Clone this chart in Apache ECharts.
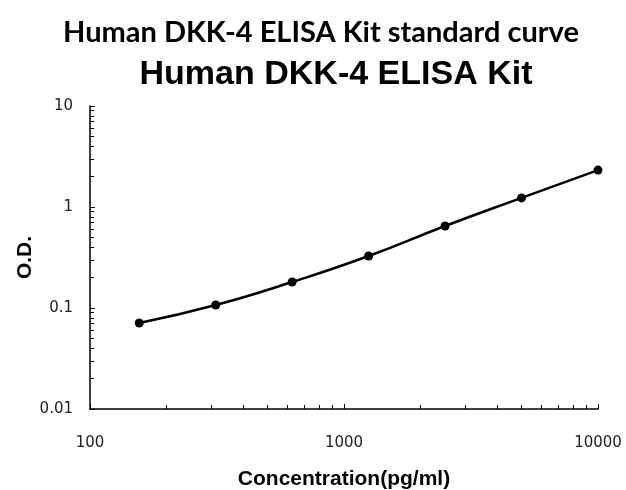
<!DOCTYPE html>
<html>
<head>
<meta charset="utf-8">
<script src="https://cdn.jsdelivr.net/npm/echarts@6/dist/echarts.min.js"></script>
<style>html,body{margin:0;padding:0;background:#fff;}#c{width:626px;height:490px;}</style>
</head>
<body>
<div id="c"></div>
<script>
var concentrations = [156.25, 312.5, 625, 1250, 2500, 5000, 10000];
var odValues = [0.071, 0.107, 0.181, 0.327, 0.648, 1.23, 2.32];
var xTickLabels = [100, 1000, 10000];
var yTickLabels = [0.01, 0.1, 1, 10];

var chart = echarts.init(document.getElementById('c'));
var data = concentrations.map(function (c, i) { return [c, odValues[i]]; });
chart.setOption({
  animation: false,
  backgroundColor: '#fff',
  title: [
    { text: 'Human DKK-4 ELISA Kit standard curve', left: 316, textAlign: 'center', top: 13,
      textStyle: { fontFamily: 'Lato', fontWeight: 'bold', fontSize: 29, color: '#000' } },
    { text: 'Human DKK-4 ELISA Kit', left: 331, textAlign: 'center', top: 53,
      textStyle: { fontFamily: 'Liberation Sans', fontWeight: 'bold', fontSize: 34, color: '#000' } }
  ],
  grid: { left: 90, right: 28, top: 106, bottom: 81, containLabel: false, outerBoundsMode: 'none' },
  xAxis: {
    type: 'log', min: 100, max: 10000, logBase: 10,
    name: 'Concentration(pg/ml)', nameLocation: 'middle', nameGap: 60, nameMoveOverlap: false,
    nameTextStyle: { fontFamily: 'Liberation Sans', fontWeight: 'bold', fontSize: 21, color: '#000' },
    axisLine: { lineStyle: { color: '#000', width: 1.5 } },
    axisTick: { inside: true, length: 5, lineStyle: { color: '#000' } },
    minorTick: { show: true, splitNumber: 9, length: 4, lineStyle: { color: '#000' } },
    splitLine: { show: false },
    axisLabel: { margin: 27, fontFamily: 'DejaVu Sans', fontSize: 15, color: '#222',
      formatter: function (v) { return xTickLabels.indexOf(Math.round(v)) >= 0 ? String(Math.round(v)) : ''; } }
  },
  yAxis: {
    type: 'log', min: 0.01, max: 10, logBase: 10,
    name: 'O.D.', nameLocation: 'middle', nameGap: 54, nameRotate: 90, nameMoveOverlap: false,
    nameTextStyle: { fontFamily: 'Liberation Sans', fontWeight: 'bold', fontSize: 21, color: '#000' },
    axisLine: { lineStyle: { color: '#000', width: 1.5 } },
    axisTick: { inside: true, length: 5, lineStyle: { color: '#000' } },
    minorTick: { show: true, splitNumber: 9, length: 4, lineStyle: { color: '#000' } },
    splitLine: { show: false },
    axisLabel: { margin: 17, fontFamily: 'DejaVu Sans', fontSize: 15, color: '#222',
      formatter: function (v) {
        for (var i = 0; i < yTickLabels.length; i++) { if (Math.abs(v - yTickLabels[i]) < yTickLabels[i] * 1e-6) return String(yTickLabels[i]); }
        return '';
      } }
  },
  series: [{
    type: 'line', data: data, smooth: true,
    symbol: 'circle', symbolSize: 9,
    itemStyle: { color: '#000' },
    lineStyle: { color: '#000', width: 2.5 }
  }]
});
</script>
</body>
</html>
